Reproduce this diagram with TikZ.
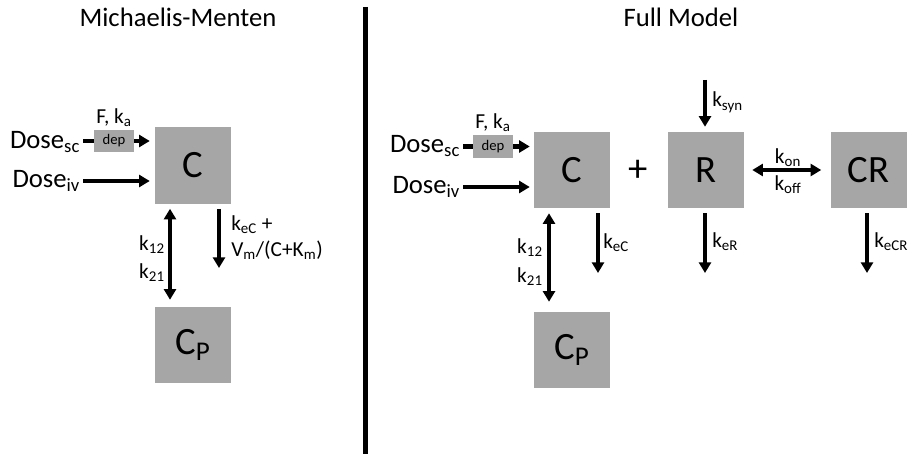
\documentclass[tikz,border=0pt]{standalone}
\usepackage{fontspec}
\setmainfont{Carlito}
\usepackage{xcolor}
\usepackage{tikz}
\usetikzlibrary{arrows.meta,calc,positioning}
\definecolor{boxgray}{HTML}{A6A6A6}

\begin{document}
\begin{tikzpicture}[x=0.75pt,y=-0.75pt,
    cbox/.style={fill=boxgray,minimum size=57pt,inner sep=0pt,font=\fontsize{29}{30}\selectfont},
    depbox/.style={fill=boxgray,minimum width=30pt,minimum height=17pt,inner sep=0pt,font=\fontsize{11}{12}\selectfont},
    dose/.style={anchor=east,inner sep=2pt,font=\fontsize{20}{22}\selectfont},
    lbl/.style={inner sep=0pt,font=\fontsize{16}{18}\selectfont},
    flow/.style={line width=3.3pt,-{Triangle[length=8pt,width=9pt]}},
    dflow/.style={line width=3.3pt,{Triangle[length=8pt,width=9pt]}-{Triangle[length=8pt,width=9pt]}},
    line/.style={line width=3.3pt}]
    \useasboundingbox (0,0) rectangle (909,456);

    % Titles and divider
    \node[anchor=base,font=\fontsize{20}{22}\selectfont] (titleL) at (178,27) {Michaelis-Menten};
    \node[anchor=base,font=\fontsize{20}{22}\selectfont] (titleR) at (681,27) {Full Model};
    \coordinate (divTop) at (365.5,7);
    \coordinate (divBot) at (365.5,454);
    \draw[line width=3.8pt] (divTop) -- (divBot);

    % Michaelis-Menten
    \node[cbox] (cL) at (193,165.5) {C};
    \node[cbox] (cpL) at (193,345) {C\textsubscript{P}};
    \node[depbox] (depL) at (114,141) {dep};
    \node[dose] (doseSCL) at (83,142) {Dose\textsubscript{sc}};
    \node[dose] (doseIVL) at (83,181) {Dose\textsubscript{iv}};
    \node[anchor=base,inner sep=0pt,font=\fontsize{16}{18}\selectfont] (faL) at (114,123) {F, k\textsubscript{a}};
    \draw[line] (doseSCL.east |- depL) -- (depL.west);
    \draw[flow] (depL.east) -- ($(cL.west |- depL)+(-5,0)$);
    \draw[flow] (doseIVL.east) -- ($(cL.west |- doseIVL)+(-5,0)$);

    \draw[dflow] ($(cL.south)+(-23,5)$) -- ($(cpL.north)+(-23,-7)$);
    \node[lbl,anchor=base east] (k12L) at (165,250) {k\textsubscript{12}};
    \node[lbl,anchor=base east] (k21L) at (165,278) {k\textsubscript{21}};

    \coordinate (elimL) at (219,268);
    \draw[flow] ($(cL.south -| elimL)+(0,5)$) -- (elimL);
    \node[lbl,anchor=base west] (keL) at (231,230) {k\textsubscript{eC} +};
    \node[lbl,anchor=base west] (vmL) at (231,256) {V\textsubscript{m}/(C+K\textsubscript{m})};

    % Full model
    \node[cbox] (cR) at (572,170) {C};
    \node[cbox] (cpR) at (572,350) {C\textsubscript{P}};
    \node[cbox] (rR) at (706,170) {R};
    \node[cbox] (crR) at (868.5,170) {CR};
    \node[font=\fontsize{29}{30}\selectfont] (plus) at (638,171) {+};
    \node[depbox] (depR) at (493,146.5) {dep};
    \node[dose] (doseSCR) at (463,146) {Dose\textsubscript{sc}};
    \node[dose] (doseIVR) at (463,187) {Dose\textsubscript{iv}};
    \node[anchor=base,inner sep=0pt,font=\fontsize{16}{18}\selectfont] (faR) at (493,128) {F, k\textsubscript{a}};
    \draw[line] (doseSCR.east |- depR) -- (depR.west);
    \draw[flow] (depR.east) -- ($(cR.west |- depR)+(-4,0)$);
    \draw[flow] (doseIVR.east) -- ($(cR.west |- doseIVR)+(-4,0)$);

    \draw[dflow] ($(cR.south)+(-23,5)$) -- ($(cpR.north)+(-23,-10)$);
    \node[lbl,anchor=base east] (k12R) at (543,253) {k\textsubscript{12}};
    \node[lbl,anchor=base east] (k21R) at (543,282) {k\textsubscript{21}};

    \coordinate (elimC) at (598,273);
    \draw[flow] ($(cR.south -| elimC)+(0,5)$) -- (elimC);
    \node[lbl,anchor=base west] (keC) at (603,248) {k\textsubscript{eC}};

    % Synthesis, binding and elimination of R
    \coordinate (synR) at (705,80);
    \draw[flow] (synR) -- ($(rR.north -| synR)+(0,-5)$);
    \node[lbl,anchor=base west] (ksyn) at (712,107) {k\textsubscript{syn}};

    \draw[dflow] ($(rR.east)+(8,0)$) -- ($(crR.west)+(-9,0)$);
    \node[lbl,anchor=base] (kon) at (788,163) {k\textsubscript{on}};
    \node[lbl,anchor=base] (koff) at (788,190) {k\textsubscript{off}};

    \coordinate (elimR) at (705,273);
    \draw[flow] ($(rR.south -| elimR)+(0,5)$) -- (elimR);
    \node[lbl,anchor=base west] (keR) at (712,247) {k\textsubscript{eR}};

    \coordinate (elimCR) at (867,273);
    \draw[flow] ($(crR.south -| elimCR)+(0,5)$) -- (elimCR);
    \node[lbl,anchor=base west] (keCR) at (874,247) {k\textsubscript{eCR}};
\end{tikzpicture}
\end{document}
